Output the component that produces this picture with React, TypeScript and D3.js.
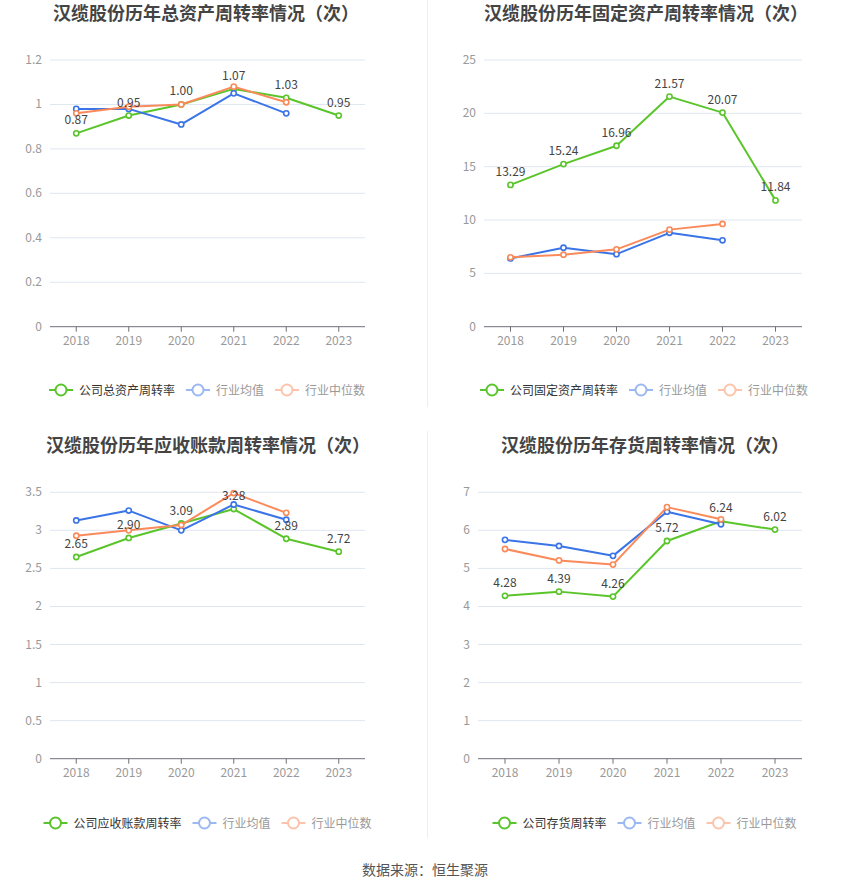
import React from "react";
import * as d3 from "d3";

const years = ["2018", "2019", "2020", "2021", "2022", "2023"];

// Chart 1: 总资产周转率
const c1Company = [0.87, 0.95, 1.0, 1.07, 1.03, 0.95];
const c1Avg = [0.98, 0.98, 0.91, 1.05, 0.96];
const c1Median = [0.96, 0.99, 1.0, 1.08, 1.01];

// Chart 2: 固定资产周转率
const c2Company = [13.29, 15.24, 16.96, 21.57, 20.07, 11.84];
const c2Avg = [6.4, 7.4, 6.8, 8.8, 8.1];
const c2Median = [6.5, 6.75, 7.25, 9.1, 9.63];

// Chart 3: 应收账款周转率
const c3Company = [2.65, 2.9, 3.09, 3.28, 2.89, 2.72];
const c3Avg = [3.13, 3.26, 3.0, 3.34, 3.14];
const c3Median = [2.93, 3.0, 3.07, 3.49, 3.23];

// Chart 4: 存货周转率
const c4Company = [4.28, 4.39, 4.26, 5.72, 6.24, 6.02];
const c4Avg = [5.75, 5.59, 5.33, 6.49, 6.16];
const c4Median = [5.51, 5.21, 5.1, 6.61, 6.29];

const titles = [
  "汉缆股份历年总资产周转率情况（次）",
  "汉缆股份历年固定资产周转率情况（次）",
  "汉缆股份历年应收账款周转率情况（次）",
  "汉缆股份历年存货周转率情况（次）",
];
const companyNames = ["公司总资产周转率", "公司固定资产周转率", "公司应收账款周转率", "公司存货周转率"];
const avgName = "行业均值";
const medianName = "行业中位数";
const yTicks1 = [0, 0.2, 0.4, 0.6, 0.8, 1, 1.2];
const yTicks2 = [0, 5, 10, 15, 20, 25];
const yTicks3 = [0, 0.5, 1, 1.5, 2, 2.5, 3, 3.5];
const yTicks4 = [0, 1, 2, 3, 4, 5, 6, 7];
const sourceText = "数据来源：恒生聚源";

const GREEN = "#5ac52a";
const BLUE = "#3a74e6";
const ORANGE = "#fb8a5a";
const FONT = "'Noto Sans CJK SC', 'Noto Sans', sans-serif";

type PanelCfg = {
  title: string;
  titleX: number;
  titleY: number;
  x0: number;
  x1: number;
  yTop: number;
  yBot: number;
  ticks: number[];
  company: number[];
  avg: number[];
  median: number[];
  companyName: string;
  legendCx: number;
  legendY: number;
};

const panels: PanelCfg[] = [
  { title: titles[0], titleX: 206, titleY: 20, x0: 50, x1: 365, yTop: 60, yBot: 326.7, ticks: yTicks1, company: c1Company, avg: c1Avg, median: c1Median, companyName: companyNames[0], legendCx: 207, legendY: 390 },
  { title: titles[1], titleX: 646, titleY: 20, x0: 484, x1: 802, yTop: 60, yBot: 326.7, ticks: yTicks2, company: c2Company, avg: c2Avg, median: c2Median, companyName: companyNames[1], legendCx: 644, legendY: 390 },
  { title: titles[2], titleX: 208, titleY: 452, x0: 50, x1: 365, yTop: 492.3, yBot: 758.7, ticks: yTicks3, company: c3Company, avg: c3Avg, median: c3Median, companyName: companyNames[2], legendCx: 207.5, legendY: 823 },
  { title: titles[3], titleX: 645, titleY: 452, x0: 478, x1: 802, yTop: 492.3, yBot: 758.7, ticks: yTicks4, company: c4Company, avg: c4Avg, median: c4Median, companyName: companyNames[3], legendCx: 644.5, legendY: 823 },
];

function fmtTick(v: number) {
  return String(+v.toFixed(2));
}

function LegendIcon({ x, y, color, opacity }: { x: number; y: number; color: string; opacity: number }) {
  return (
    <g opacity={opacity}>
      <line x1={x} x2={x + 24} y1={y} y2={y} stroke={color} strokeWidth={2} />
      <circle cx={x + 12} cy={y} r={5.5} fill="#fff" stroke={color} strokeWidth={2} />
    </g>
  );
}

function Panel({ p }: { p: PanelCfg }) {
  const x = d3.scaleBand<string>().domain(years).range([p.x0, p.x1]);
  const maxV = p.ticks[p.ticks.length - 1];
  const y = d3.scaleLinear().domain([0, maxV]).range([p.yBot, p.yTop]);
  const cx = (i: number) => (x(years[i]) as number) + x.bandwidth() / 2;
  const line = d3
    .line<number>()
    .x((_, i) => cx(i))
    .y((d) => y(d));

  const series = [
    { data: p.company, color: GREEN },
    { data: p.avg, color: BLUE },
    { data: p.median, color: ORANGE },
  ];

  // legend layout
  const iconW = 24;
  const gapIT = 6;
  const itemGap = 11;
  const charW = 12;
  const items = [
    { name: p.companyName, color: GREEN, opacity: 1, textColor: "#333" },
    { name: avgName, color: BLUE, opacity: 0.5, textColor: "#999" },
    { name: medianName, color: ORANGE, opacity: 0.5, textColor: "#999" },
  ];
  const widths = items.map((it) => iconW + gapIT + it.name.length * charW);
  const total = widths.reduce((a, b) => a + b, 0) + itemGap * (items.length - 1);
  let lx = p.legendCx - total / 2;
  const legendEls = items.map((it, i) => {
    const startX = lx;
    lx += widths[i] + itemGap;
    return (
      <g key={it.name}>
        <LegendIcon x={startX} y={p.legendY} color={it.color} opacity={it.opacity} />
        <text x={startX + iconW + gapIT} y={p.legendY + 4.5} fontSize={12} fill={it.textColor} fontFamily={FONT}>
          {it.name}
        </text>
      </g>
    );
  });

  return (
    <g>
      <text x={p.titleX} y={p.titleY} textAnchor="middle" fontSize={18} fontWeight="bold" fill="#444" fontFamily={FONT}>
        {p.title}
      </text>
      {p.ticks.map((t) => (
        <g key={t}>
          {t !== 0 && <line x1={p.x0} x2={p.x1} y1={y(t)} y2={y(t)} stroke="#e0e6f1" strokeWidth={1} />}
          <text x={p.x0 - 8} y={y(t) + 4} textAnchor="end" fontSize={12} fill="#999" fontFamily={FONT}>
            {fmtTick(t)}
          </text>
        </g>
      ))}
      <line x1={p.x0} x2={p.x1} y1={p.yBot} y2={p.yBot} stroke="#6e7079" strokeWidth={1} />
      {years.map((yr, i) => (
        <g key={yr}>
          <line x1={cx(i)} x2={cx(i)} y1={p.yBot} y2={p.yBot + 5} stroke="#6e7079" strokeWidth={1} />
          <text x={cx(i)} y={p.yBot + 18} textAnchor="middle" fontSize={12} fill="#999" fontFamily={FONT}>
            {yr}
          </text>
        </g>
      ))}
      {series.map((s, si) => (
        <g key={si}>
          <path d={line(s.data) || ""} fill="none" stroke={s.color} strokeWidth={2} strokeLinejoin="round" />
          {s.data.map((v, i) => (
            <circle key={i} cx={cx(i)} cy={y(v)} r={2.6} fill="#fff" stroke={s.color} strokeWidth={1.6} />
          ))}
        </g>
      ))}
      {p.company.map((v, i) => (
        <text key={i} x={cx(i)} y={y(v) - 9} textAnchor="middle" fontSize={12} fill="#444" fontFamily={FONT}>
          {v.toFixed(2)}
        </text>
      ))}
      {legendEls}
    </g>
  );
}

export default function App() {
  return (
    <svg
      width={850}
      height={891}
      viewBox="0 0 850 891"
      style={{ position: "absolute", left: 0, top: 0, background: "#fff" }}
    >
      <rect x={0} y={0} width={850} height={891} fill="#fff" />
      <line x1={427.5} x2={427.5} y1={0} y2={407} stroke="#eeeeee" strokeWidth={1} />
      <line x1={427.5} x2={427.5} y1={431} y2={838} stroke="#eeeeee" strokeWidth={1} />
      {panels.map((p, i) => (
        <Panel key={i} p={p} />
      ))}
      <text x={425} y={875} textAnchor="middle" fontSize={14} fill="#555" fontFamily={FONT}>
        {sourceText}
      </text>
    </svg>
  );
}
